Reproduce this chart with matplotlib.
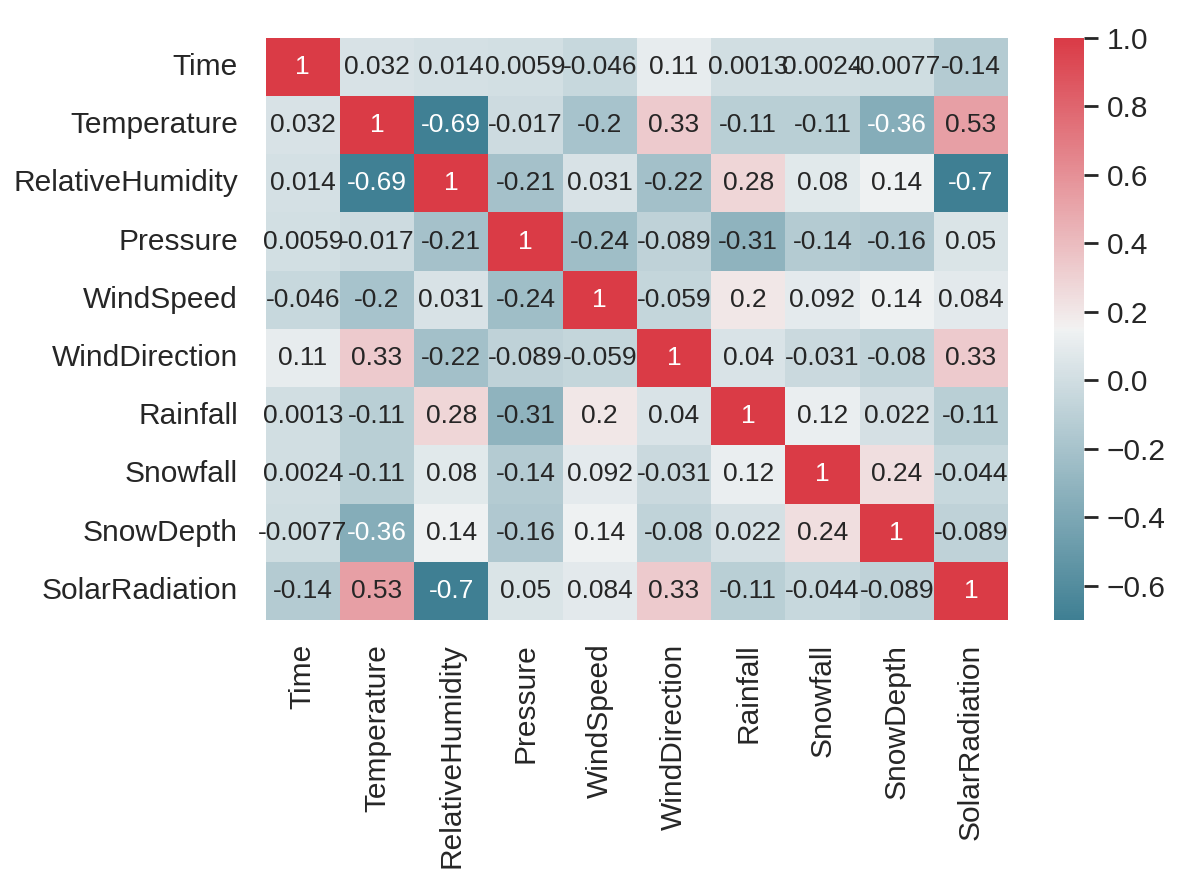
import numpy as np
import matplotlib
matplotlib.use("Agg")
import matplotlib.pyplot as plt
import seaborn as sns

labels = ["Time", "Temperature", "RelativeHumidity", "Pressure", "WindSpeed",
          "WindDirection", "Rainfall", "Snowfall", "SnowDepth", "SolarRadiation"]

time_row = [1, 0.032, 0.014, 0.0059, -0.046, 0.11, 0.0013, 0.0024, -0.0077, -0.14]
temperature_row = [0.032, 1, -0.69, -0.017, -0.2, 0.33, -0.11, -0.11, -0.36, 0.53]
humidity_row = [0.014, -0.69, 1, -0.21, 0.031, -0.22, 0.28, 0.08, 0.14, -0.7]
pressure_row = [0.0059, -0.017, -0.21, 1, -0.24, -0.089, -0.31, -0.14, -0.16, 0.05]
windspeed_row = [-0.046, -0.2, 0.031, -0.24, 1, -0.059, 0.2, 0.092, 0.14, 0.084]
winddir_row = [0.11, 0.33, -0.22, -0.089, -0.059, 1, 0.04, -0.031, -0.08, 0.33]
rainfall_row = [0.0013, -0.11, 0.28, -0.31, 0.2, 0.04, 1, 0.12, 0.022, -0.11]
snowfall_row = [0.0024, -0.11, 0.08, -0.14, 0.092, -0.031, 0.12, 1, 0.24, -0.044]
snowdepth_row = [-0.0077, -0.36, 0.14, -0.16, 0.14, -0.08, 0.022, 0.24, 1, -0.089]
solar_row = [-0.14, 0.53, -0.7, 0.05, 0.084, 0.33, -0.11, -0.044, -0.089, 1]

corr = np.array([time_row, temperature_row, humidity_row, pressure_row, windspeed_row,
                 winddir_row, rainfall_row, snowfall_row, snowdepth_row, solar_row])

sns.set_style("white")
plt.rcParams['font.family'] = ['Liberation Sans', 'DejaVu Sans']
plt.rcParams['text.color'] = '.15'
plt.rcParams['xtick.color'] = '.15'
plt.rcParams['ytick.color'] = '.15'

fig = plt.figure(figsize=(11.86, 8.77), dpi=100)
ax = fig.add_axes([0.224, 0.293, 0.626, 0.664])
cax = fig.add_axes([0.889, 0.293, 0.0253, 0.664])

cmap = sns.diverging_palette(220, 10, as_cmap=True)
sns.heatmap(corr, cmap=cmap, annot=True, ax=ax, cbar_ax=cax,
            xticklabels=labels, yticklabels=labels,
            annot_kws={"fontsize": 19})

ax.tick_params(axis='y', length=0, labelsize=21.5, pad=20)
ax.tick_params(axis='x', length=0, labelsize=21.5, pad=17)
plt.setp(ax.get_xticklabels(), rotation=90)
plt.setp(ax.get_yticklabels(), rotation=0)

cax.tick_params(length=10, width=2, labelsize=21.5, color='.15', pad=6)
for s in cax.spines.values():
    s.set_visible(False)

fig.savefig("out.png", dpi=100)
